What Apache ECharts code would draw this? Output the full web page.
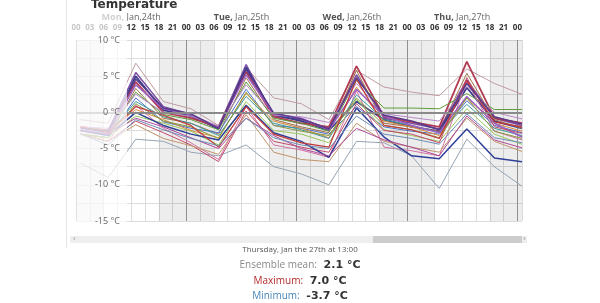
<!DOCTYPE html>
<html>
<head>
    <meta charset="UTF-8">
    <title>Temperature</title>
    <script type="text/javascript" src="https://cdn.jsdelivr.net/npm/echarts/dist/echarts.min.js"></script>
</head>
<body style="margin: 0;padding: 0;">
    <div id="container" style="width:600px; height:303px;"></div>
    <script>
        // forecast times, hours after Mon 00:00
        var hours = [1, 7, 13, 19, 25, 31, 37, 43, 49, 55, 61, 67, 73, 79, 85, 91, 97];
        var dayNames = ['Mon', 'Tue', 'Wed', 'Thu'];
        var dayDates = ['Jan,24th', 'Jan,25th', 'Jan,26th', 'Jan,27th'];
        var nightStart = [0, 18, 42, 66, 90];
        var nightEnd = [6, 30, 54, 78, 97];

        // ensemble members, °C
        var member01 = [-1.0, -1.5, 6.8, 1.5, 0.5, -1.8, 6.2, 2.0, 1.2, -1.0, 5.8, 3.5, 2.8, 2.3, 6.0, 4.0, 2.5];
        var member02 = [-2.0, -2.5, 5.5, 0.8, -0.3, -2.0, 6.6, -0.5, -1.0, -2.2, 5.2, -0.8, -1.5, -2.3, 4.5, -0.8, -1.8];
        var member03 = [-2.5, -3.0, 5.0, 0.3, -0.5, -2.3, 6.2, -0.3, -1.2, -2.5, 1.5, -1.0, -2.0, -2.6, 3.4, -1.2, -2.2];
        var member04 = [-2.0, -2.5, 4.2, 0.0, -0.8, -2.0, 5.6, -0.6, -1.5, -2.0, 6.4, -0.6, -1.3, -2.0, 7.0, -0.8, -1.5];
        var member05 = [-3.0, -3.5, 3.3, -0.8, -1.5, -3.0, 4.8, -1.0, -2.0, -2.8, 5.8, -1.5, -2.0, -2.6, 5.4, -1.0, -2.2];
        var member06 = [-2.5, -3.0, 2.8, -0.3, -1.0, -2.4, 4.2, -0.8, -1.5, -2.6, 4.4, 0.6, 0.6, 0.5, 2.6, 0.4, 0.4];
        var member07 = [-3.0, -4.0, 1.0, -2.2, -4.2, -6.5, 0.8, -4.5, -5.2, -6.2, 3.0, -4.8, -5.3, -6.0, 4.3, -2.6, -3.8];
        var member08 = [-3.0, -3.5, 2.0, -1.3, -2.2, -2.8, 3.2, -1.8, -2.2, -3.0, 0.8, -2.0, -2.6, -3.0, 1.6, -1.8, -2.8];
        var member09 = [-7.0, -9.0, -3.7, -4.0, -5.5, -6.0, -4.5, -7.5, -8.5, -10.0, -4.0, -4.2, -6.0, -10.5, -3.7, -7.5, -10.2];
        var member10 = [-2.0, -2.5, 0.4, -1.0, -2.5, -3.5, 2.6, -1.2, -2.2, -3.5, 3.5, -1.2, -2.0, -3.2, 2.0, -1.5, -2.6];
        var member11 = [-2.0, -3.0, 1.5, -0.6, -1.5, -3.2, 2.2, -1.5, -2.4, -3.6, 2.4, -1.0, -1.8, -2.8, 1.1, -2.2, -3.2];
        var member12 = [-3.0, -3.5, -0.5, -1.5, -2.6, -4.5, 1.5, -2.5, -3.0, -4.2, 1.8, -2.4, -3.2, -4.0, 0.5, -3.0, -4.4];
        var member13 = [-2.5, -3.0, 3.8, 0.5, -0.3, -2.1, 5.2, -0.2, -0.8, -2.4, 3.2, -0.5, -1.8, -2.8, 2.2, -1.5, -3.4];
        var member14 = [-3.0, -4.0, -1.2, -2.8, -4.5, -6.8, 0.2, -4.0, -4.8, -5.5, 1.2, -2.5, -3.0, -4.2, 4.8, -2.0, -2.9];
        var member15 = [-2.5, -3.2, 0.0, -1.8, -3.0, -3.8, 1.0, -2.8, -4.0, -6.2, 0.6, -3.4, -6.0, -6.4, -2.3, -6.3, -6.8];
        var member16 = [-3.0, -4.0, -1.7, -3.6, -4.6, -5.8, -0.3, -5.5, -6.5, -6.8, -1.5, -4.0, -4.8, -5.5, -0.8, -4.0, -5.4];
        var member17 = [-2.0, -2.2, 2.5, 0.0, -0.5, -1.9, 3.8, -0.4, -0.6, -1.4, 4.0, -0.2, -0.7, -1.2, 3.6, 0.0, -0.9];
        var member18 = [-2.5, -3.0, -0.8, -2.0, -3.5, -5.0, -0.8, -3.2, -5.0, -6.0, -2.2, -3.8, -4.8, -6.0, -0.5, -3.8, -4.9];
        var member19 = [-3.0, -3.5, 1.2, -1.2, -2.0, -3.6, 2.8, -1.8, -2.6, -3.2, 2.0, -1.8, -2.4, -3.5, 2.0, -2.6, -3.6];
        var member20 = [-2.0, -2.8, 0.8, -0.4, -1.8, -4.8, 0.8, -3.0, -4.2, -4.8, 4.6, -1.8, -2.4, -3.6, 4.4, -1.3, -2.0];
        var member21 = [-3.0, -4.5, -1.0, -2.4, -3.6, -4.6, -0.8, -3.5, -4.5, -5.0, -0.5, -3.0, -3.6, -4.4, -0.2, -3.5, -4.2];
        var member22 = [-2.2, -2.6, 4.6, 0.6, -0.2, -2.2, 5.9, -0.1, -0.9, -2.3, 4.8, -0.4, -1.2, -2.4, 4.0, -0.6, -1.6];

        var members = [member01, member02, member03, member04, member05, member06, member07, member08,
            member09, member10, member11, member12, member13, member14, member15, member16,
            member17, member18, member19, member20, member21, member22];
        var colors = ['#bf9a9f', '#7c4ea3', '#3b3b8e', '#b23a52', '#a0704a', '#5e9c3c', '#d270a4', '#4f6fc8',
            '#94a4b4', '#d88a3c', '#3c9a9c', '#98c45c', '#9a62c4', '#c24a6a', '#2f3f96', '#c0946a',
            '#b888c8', '#b04898', '#8a9a3a', '#c03838', '#6c8cb4', '#5a3a8a'];
        var widths = [1, 1.5, 1.8, 1.8, 1, 1, 1, 1, 1, 1, 1, 1, 1.5, 1, 1.5, 1, 1, 1, 1, 1.2, 1, 1.5];

        var chart = echarts.init(document.getElementById('container'), null, { renderer: 'canvas' });

        var series = [];
        // night shading and the 0 °C line
        series.push({
            type: 'line',
            data: [[0, 0]],
            symbol: 'none',
            silent: true,
            z: 1,
            lineStyle: { opacity: 0 },
            markArea: {
                silent: true,
                itemStyle: { color: 'rgba(0,0,0,0.07)' },
                data: nightStart.map(function (s, i) {
                    return [{ xAxis: s }, { xAxis: nightEnd[i] }];
                })
            }
        });
        for (var n = 0; n < members.length; n++) {
            series.push({
                type: 'line',
                symbol: 'none',
                silent: true,
                z: 2,
                lineStyle: { color: colors[n], width: widths[n] },
                data: hours.map(function (h, k) { return [h, members[n][k]]; })
            });
        }
        series.push({
            type: 'line',
            data: [[0, 0]],
            symbol: 'none',
            silent: true,
            z: 3,
            lineStyle: { opacity: 0 },
            markLine: {
                silent: true,
                symbol: 'none',
                label: { show: false },
                lineStyle: { color: '#8a8a8a', width: 2, type: 'solid' },
                data: [{ yAxis: 0 }]
            }
        });

        var lightGrid = '#dcdcdc';
        var splitColors = ['#9a9a9a', lightGrid, lightGrid, lightGrid, lightGrid, lightGrid, lightGrid, lightGrid];

        var option = {
            animation: false,
            textStyle: { fontFamily: 'Open Sans' },
            title: {
                text: 'Temperature',
                left: 86,
                top: -6,
                textStyle: { fontSize: 12, fontWeight: 'bold', color: '#333', fontFamily: 'DejaVu Sans' }
            },
            grid: { left: 76, right: 78, top: 40, bottom: 82 },
            xAxis: [{
                type: 'value',
                position: 'top',
                min: 0,
                max: 97,
                interval: 3,
                axisLine: { show: false },
                axisTick: { show: false },
                axisLabel: {
                    margin: 8,
                    fontSize: 8,
                    fontWeight: 'bold',
                    color: '#333',
                    showMaxLabel: false,
                    formatter: function (v) {
                        if (v % 3) return '';
                        var h = v % 24;
                        return (h < 10 ? '0' : '') + h;
                    }
                },
                splitLine: { show: true, lineStyle: { color: splitColors, width: 1 } }
            }, {
                type: 'value',
                position: 'top',
                offset: 10,
                min: 0,
                max: 97,
                interval: 12,
                axisLine: { show: false },
                axisTick: { show: false },
                splitLine: { show: false },
                axisLabel: {
                    margin: 8,
                    fontSize: 9,
                    color: '#666',
                    showMaxLabel: false,
                    formatter: function (v) {
                        if (v % 24 !== 12) return '';
                        var d = (v - 12) / 24;
                        return '{d|' + dayNames[d] + ',} ' + dayDates[d];
                    },
                    rich: { d: { fontSize: 9, fontWeight: 'bold', color: '#555' } }
                }
            }],
            yAxis: [{
                type: 'value',
                min: -15,
                max: 10,
                interval: 2.5,
                axisLine: { show: false },
                axisTick: { show: false },
                axisLabel: { show: false },
                splitLine: { lineStyle: { color: lightGrid } }
            }, {
                type: 'value',
                position: 'left',
                min: -15,
                max: 10,
                interval: 5,
                offset: -46,
                z: 60,
                axisLine: { show: false },
                axisTick: { show: false },
                splitLine: { show: false },
                axisLabel: {
                    margin: 2,
                    fontSize: 9,
                    color: '#666',
                    formatter: '{value} °C'
                }
            }],
            series: series,
            graphic: [
                // faded part before the visible window
                { type: 'rect', z: 50, silent: true, shape: { x: 66, y: 12, width: 61, height: 214 }, style: { fill: 'rgba(255,255,255,0.72)' } },
                { type: 'line', z: 50, silent: true, shape: { x1: 66.5, y1: 0, x2: 66.5, y2: 248 }, style: { stroke: '#e4e4e4', lineWidth: 1 } },
                // scrollbar
                { type: 'rect', silent: true, shape: { x: 70, y: 236, width: 457, height: 7 }, style: { fill: '#eeeeee' } },
                { type: 'rect', silent: true, shape: { x: 373, y: 236, width: 149, height: 7 }, style: { fill: '#cccccc' } },
                { type: 'text', silent: true, x: 73, y: 235, style: { text: '‹', fontSize: 8, fill: '#999' } },
                { type: 'text', silent: true, x: 523, y: 235, style: { text: '›', fontSize: 8, fill: '#999' } },
                // tooltip text for Thursday 13:00
                {
                    type: 'text', silent: true, x: 300, y: 246,
                    style: { text: 'Thursday, Jan the 27th at 13:00', fontSize: 8, fill: '#555', textAlign: 'center', fontFamily: 'Open Sans' }
                },
                {
                    type: 'text', silent: true, x: 300, y: 259,
                    style: {
                        text: '{l|Ensemble mean:}  {v|2.1 °C}', textAlign: 'center',
                        rich: {
                            l: { fontSize: 10, fill: '#888', fontFamily: 'Open Sans' },
                            v: { fontSize: 11, fontWeight: 'bold', fill: '#333', fontFamily: 'DejaVu Sans' }
                        }
                    }
                },
                {
                    type: 'text', silent: true, x: 300, y: 275,
                    style: {
                        text: '{l|Maximum:}  {v|7.0 °C}', textAlign: 'center',
                        rich: {
                            l: { fontSize: 10, fill: '#b22a2a', fontFamily: 'Open Sans' },
                            v: { fontSize: 11, fontWeight: 'bold', fill: '#333', fontFamily: 'DejaVu Sans' }
                        }
                    }
                },
                {
                    type: 'text', silent: true, x: 300, y: 290,
                    style: {
                        text: '{l|Minimum:}  {v|-3.7 °C}', textAlign: 'center',
                        rich: {
                            l: { fontSize: 10, fill: '#4a86b8', fontFamily: 'Open Sans' },
                            v: { fontSize: 11, fontWeight: 'bold', fill: '#333', fontFamily: 'DejaVu Sans' }
                        }
                    }
                }
            ]
        };
        chart.setOption(option);
    </script>
</body>
</html>
